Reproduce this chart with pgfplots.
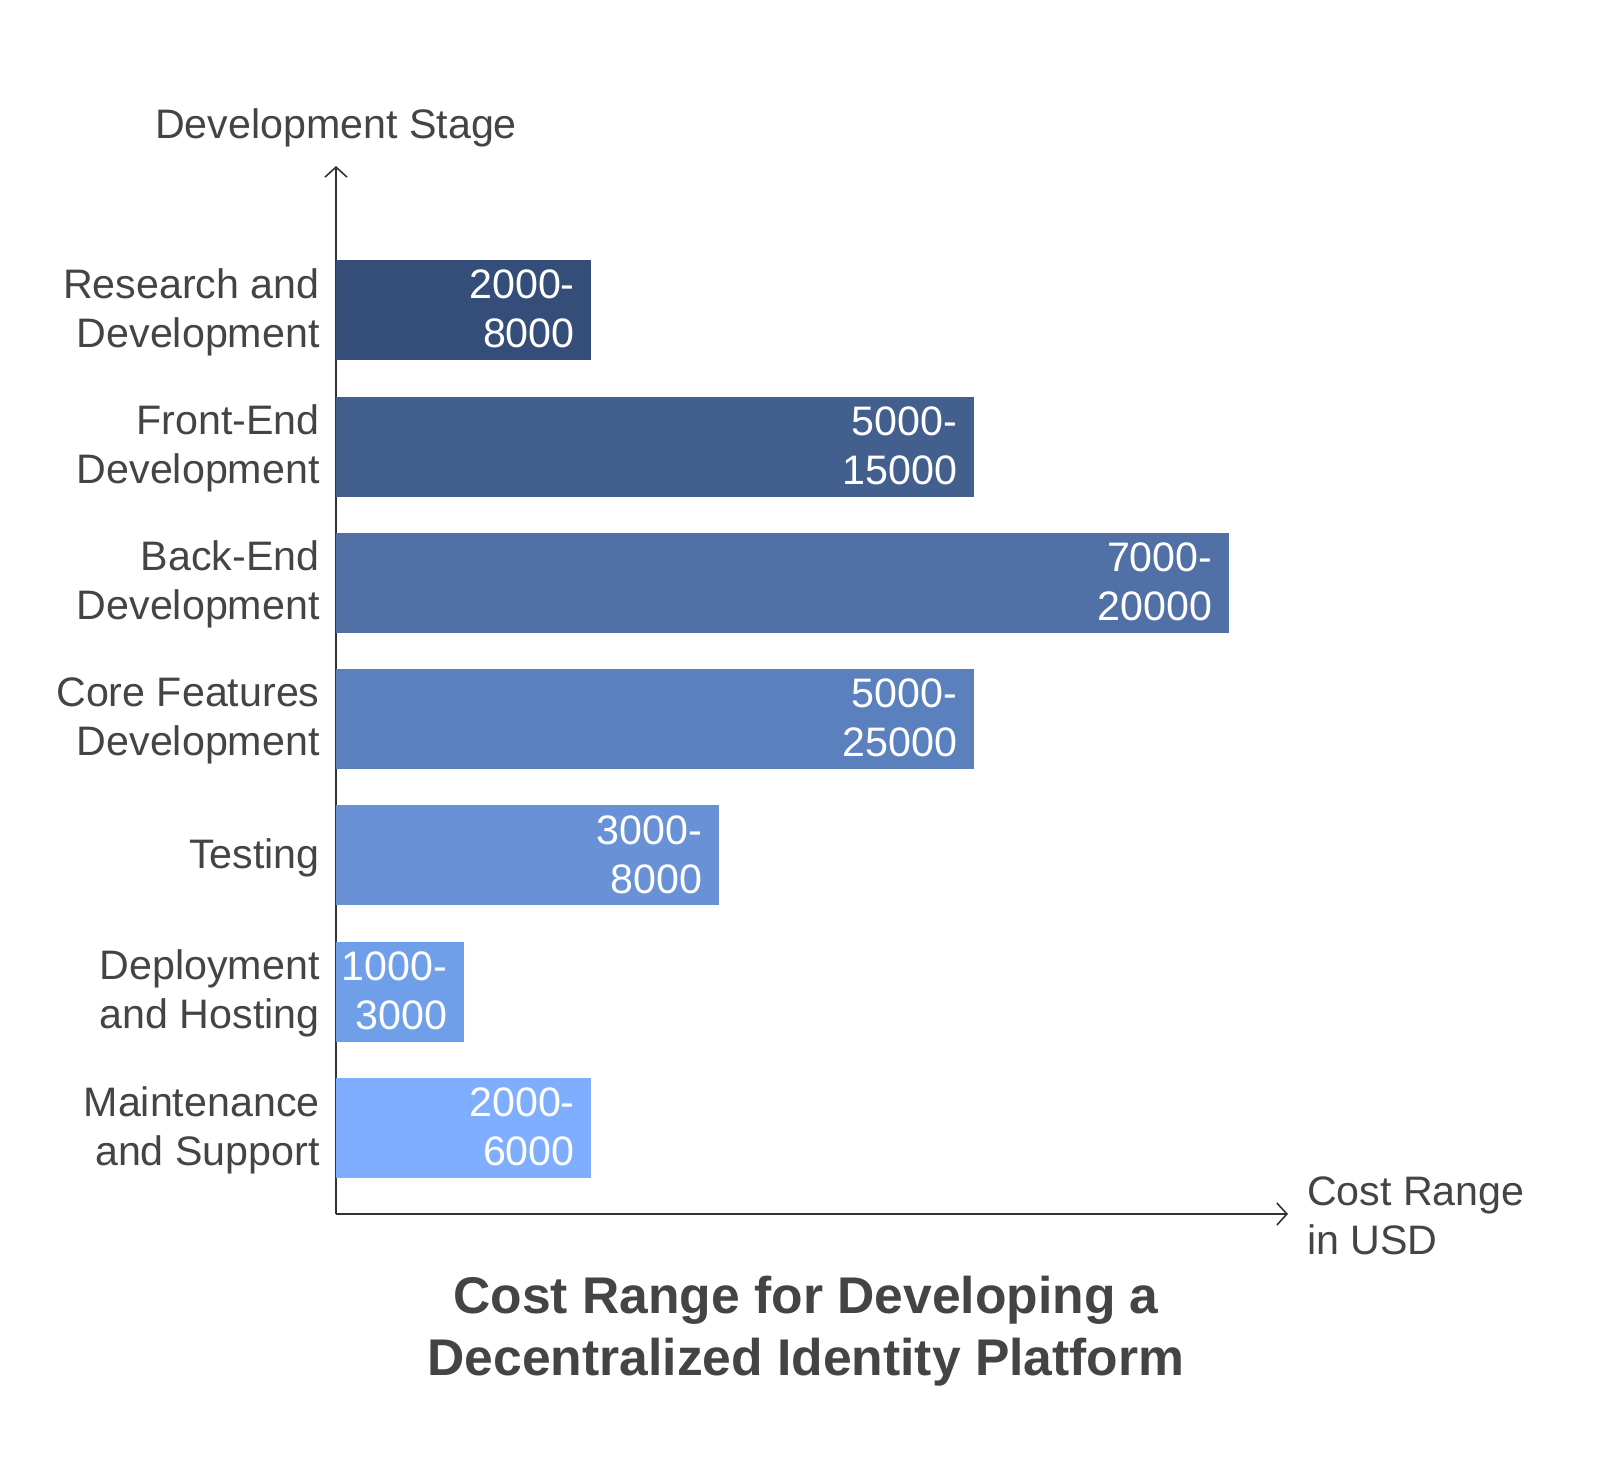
\documentclass[border=0pt]{standalone}
\usepackage{pgfplots}
\pgfplotsset{compat=1.18}
\usepackage{fontspec}
\setmainfont{Liberation Sans}
\usetikzlibrary{arrows.meta}
\definecolor{txt}{HTML}{444444}
\definecolor{axl}{HTML}{333333}
\definecolor{c1}{HTML}{344E79}
\definecolor{c2}{HTML}{435F8E}
\definecolor{c3}{HTML}{5070A6}
\definecolor{c4}{HTML}{5A80BE}
\definecolor{c5}{HTML}{6891D6}
\definecolor{c6}{HTML}{709FEA}
\definecolor{c7}{HTML}{7EAEFD}
\begin{document}
\begin{tikzpicture}
\useasboundingbox (-168pt,-125pt) rectangle (632pt,607pt);
\begin{axis}[
  at={(0,0)}, anchor=south west,
  scale only axis, width=476pt, height=524pt,
  xbar, bar width=50pt, bar shift=0pt,
  xmin=0, xmax=7464, ymin=-0.631, ymax=7.058,
  axis lines=left,
  axis line style={draw=axl, line width=0.8pt, -{Straight Barb[length=5pt,width=11pt]}},
  xtick=\empty,
  ytick={0,1,2,3,4,5,6},
  yticklabels={Maintenance\\and Support, Deployment\\and Hosting, Testing, Core Features\\Development, Back-End\\Development, Front-End\\Development, Research and\\Development},
  major tick length=0pt,
  yticklabel style={align=right, font=\fontsize{20.6}{24.5}\selectfont, text=txt, inner sep=0pt, xshift=-8pt, yshift=-1pt},
  every axis y label/.style={at={(rel axis cs:0,1)}, anchor=base, yshift=14pt, font=\fontsize{20.6}{24.5}\selectfont, text=txt},
  ylabel={Development Stage},
  every axis x label/.style={at={(rel axis cs:1,0)}, anchor=west, xshift=6pt, yshift=-1pt, align=left, font=\fontsize{20.6}{24.5}\selectfont, text=txt},
  xlabel={Cost Range\\in USD},
  title={Cost Range for Developing a\\Decentralized Identity Platform},
  title style={at={(rel axis cs:0.5,0)}, anchor=base, yshift=-86.5pt, xshift=-3pt, align=center, font=\fontsize{25.8}{31}\selectfont\bfseries, text=txt},
  point meta=explicit symbolic,
  nodes near coords={\pgfplotspointmeta},
  every node near coord/.append style={anchor=east, xshift=-8pt, yshift=0.5pt, align=right, text=white, font=\fontsize{20.6}{24.5}\selectfont, inner sep=0pt},
  clip=false,
]
\addplot[fill=c7, draw=none] coordinates {(2000,0) [2000-\\6000]};
\addplot[fill=c6, draw=none] coordinates {(1000,1) [1000-\\3000]};
\addplot[fill=c5, draw=none] coordinates {(3000,2) [3000-\\8000]};
\addplot[fill=c4, draw=none] coordinates {(5000,3) [5000-\\25000]};
\addplot[fill=c3, draw=none] coordinates {(7000,4) [7000-\\20000]};
\addplot[fill=c2, draw=none] coordinates {(5000,5) [5000-\\15000]};
\addplot[fill=c1, draw=none] coordinates {(2000,6) [2000-\\8000]};
\end{axis}
\end{tikzpicture}
\end{document}
